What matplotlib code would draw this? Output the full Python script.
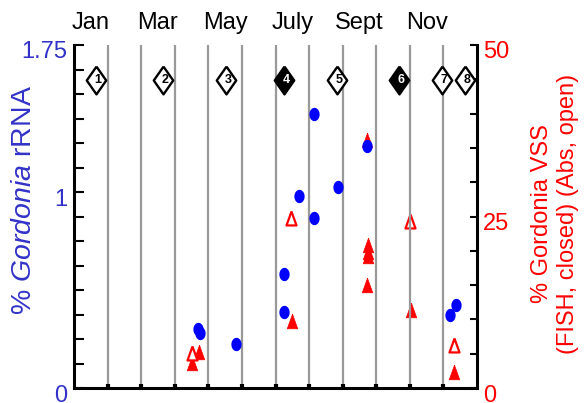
import numpy as np
import matplotlib
matplotlib.use('Agg')
import matplotlib.pyplot as plt
from matplotlib.transforms import ScaledTranslation

plt.rcParams['font.family'] = ['Liberation Sans', 'DejaVu Sans']
plt.rcParams['mathtext.fontset'] = 'custom'
plt.rcParams['mathtext.rm'] = 'Liberation Sans'
plt.rcParams['mathtext.it'] = 'Liberation Sans:italic'

# x is months since Jan 1 (0..12)
month_names = ['Jan', 'Mar', 'May', 'July', 'Sept', 'Nov']
month_pos = [0.5, 2.5, 4.5, 6.5, 8.5, 10.5]

# % Gordonia rRNA (left axis, blue circles)
rrna_x = [3.70, 3.76, 4.82, 6.25, 6.25, 6.70, 7.14, 7.14, 7.86, 8.72, 11.20, 11.38]
rrna_y = [0.30, 0.28, 0.224, 0.58, 0.39, 0.98, 1.40, 0.867, 1.025, 1.235, 0.372, 0.423]

# % Gordonia VSS, FISH (right axis, closed triangles)
fish_x = [3.72, 3.51, 6.49, 8.72, 8.74, 8.74, 8.76, 8.72, 10.04, 11.32]
fish_y = [5.2, 3.7, 9.8, 36.2, 20.8, 19.8, 19.2, 15.0, 11.4, 2.3]

# % Gordonia VSS, Abs (right axis, open triangles)
abs_x = [3.51, 6.46, 10.0, 11.32]
abs_y = [5.1, 24.8, 24.3, 6.3]

# numbered sampling events (diamonds)
event_x = [0.65, 2.65, 4.52, 6.25, 7.83, 9.67, 10.95, 11.64]
event_filled = [False, False, False, True, False, True, False, False]

blue_txt = '#3232c8'

fig = plt.figure(figsize=(5.84, 4.03), dpi=100)
ax = fig.add_axes([74 / 584, 15 / 403, 403 / 584, 343 / 403])
ax2 = ax.twinx()
ax.set_zorder(2)
ax.patch.set_visible(False)

ax.set_xlim(0, 12)
ax.set_ylim(0, 1.75)
ax2.set_ylim(0, 50)

# marker shapes (taller than wide)
t = np.linspace(0, 2 * np.pi, 40)
ellipse = list(zip(0.77 * np.cos(t), np.sin(t)))
tri = [(0, 1), (-0.72, -1), (0.72, -1), (0, 1)]
diamond = [(0, 1), (0.7, 0), (0, -1), (-0.7, 0), (0, 1)]

# month separators
for m in range(1, 12):
    ax.axvline(m, color='#999999', lw=1.6, zorder=1)

ax2.plot(fish_x, fish_y, ls='none', marker=tri, ms=10.5, mfc='red', mec='red', mew=0.5)
ax2.plot(abs_x, abs_y, ls='none', marker=tri, ms=10, mfc='white', mec='red', mew=1.6)
ax.plot(rrna_x, rrna_y, ls='none', marker=ellipse, ms=9.6, mfc='blue', mec='blue', mew=0, zorder=3)

for i, (ex, filled) in enumerate(zip(event_x, event_filled)):
    ax.plot(ex, 1.57, marker=diamond, ms=20, mfc='black' if filled else 'white',
            mec='black', mew=1.7, zorder=4, clip_on=False)
    ax.text(ex + 0.06, 1.57, str(i + 1), ha='center', va='center', fontsize=9,
            fontweight='bold', color='white' if filled else 'black', zorder=5)

for name, m in zip(month_names, month_pos):
    ax.text(m, 1.064, name, transform=ax.get_xaxis_transform(), ha='center',
            va='center', fontsize=17)

# spines
for a in (ax, ax2):
    a.spines['top'].set_visible(False)
ax.spines['right'].set_visible(False)
ax2.spines['left'].set_visible(False)
ax2.spines['bottom'].set_visible(False)
ax.spines['left'].set_linewidth(2.2)
ax.spines['bottom'].set_linewidth(2.2)
ax2.spines['right'].set_linewidth(2.2)

ax.set_xticks(range(1, 12))
ax.tick_params(axis='x', direction='in', length=3, width=3, labelbottom=False)

ax.set_yticks([0, 1, 1.75])
ax.set_yticklabels(['0', '1', '1.75'])
ax.set_yticks(np.arange(0, 1.76, 0.125), minor=True)
ax.tick_params(axis='y', which='both', direction='in', length=7, width=1.5,
               labelsize=17, labelcolor=blue_txt, pad=5)

ax2.set_yticks([0, 25, 50])
ax2.set_yticks(np.arange(0, 51, 5), minor=True)
ax2.tick_params(axis='y', which='both', direction='in', length=5, width=1.5,
                labelsize=17, labelcolor='red', pad=4.5)

fig.text(24 / 584, (403 - 200) / 403, r'% $\mathit{Gordonia}$ rRNA', rotation=90,
         ha='center', va='center', fontsize=20.5, color=blue_txt)
fig.text(555 / 584, (403 - 214) / 403, '% Gordonia VSS\n(FISH, closed) (Abs, open)',
         rotation=90, ha='center', va='center', fontsize=17, color='red',
         multialignment='center')

shift = ScaledTranslation(0, -5 / 100, fig.dpi_scale_trans)
for lab in ax.get_yticklabels() + ax2.get_yticklabels():
    lab.set_transform(lab.get_transform() + shift)

fig.savefig('out.png', dpi=100)
